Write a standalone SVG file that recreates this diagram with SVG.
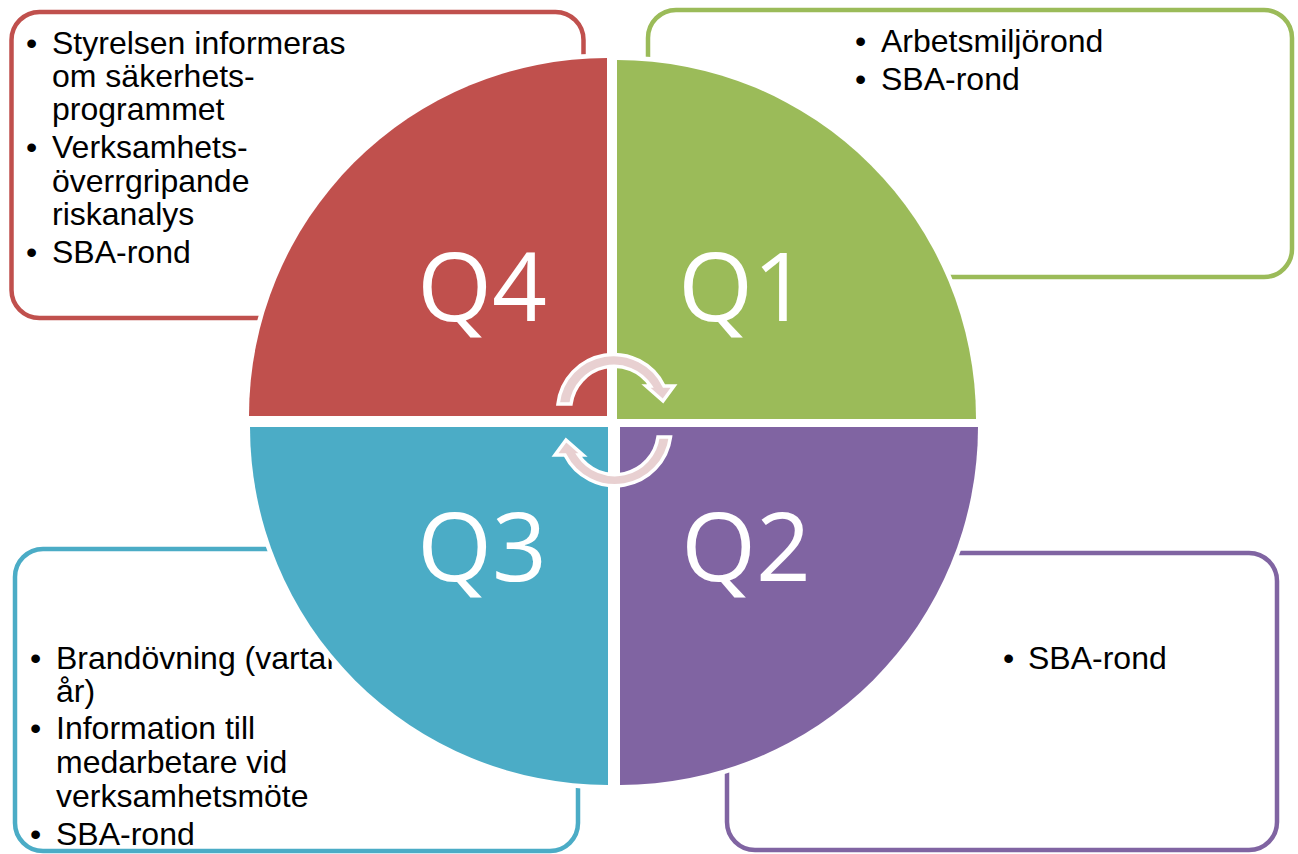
<svg xmlns="http://www.w3.org/2000/svg" width="1298" height="854" viewBox="0 0 1298 854">
<style>
.box{fill:#fff;stroke-width:4.5}
.t{font-family:"Liberation Sans",Arial,sans-serif;font-size:32px;fill:#000}
.q{font-family:"Open Sans","Noto Sans",sans-serif;font-size:96px;fill:#fff;text-anchor:middle}
.quad{stroke:#fff;stroke-width:9;paint-order:stroke}
.arr{fill:#E8D0D1;stroke:#fff;stroke-width:3.5;stroke-linejoin:miter}
</style>
<rect width="1298" height="854" fill="#fff"/>
<g id="q4">
<rect class="box" x="11.5" y="12" width="572" height="306" rx="28" stroke="#C0504D"/>
<text class="t"><tspan x="26" y="54">•</tspan><tspan x="52" y="54">Styrelsen informeras</tspan><tspan x="52" y="87">om säkerhets-</tspan><tspan x="52" y="120">programmet</tspan><tspan x="26" y="158">•</tspan><tspan x="52" y="158">Verksamhets-</tspan><tspan x="52" y="191.5">överrgripande</tspan><tspan x="52" y="225">riskanalys</tspan><tspan x="26" y="263">•</tspan><tspan x="52" y="263">SBA-rond</tspan></text>
<path class="quad" fill="#C0504D" d="M607 416 L249 416 A358 358 0 0 1 607 58 Z"/>
<text class="q" x="482" y="321">Q4</text>
</g>
<g id="q1">
<rect class="box" x="648" y="10" width="644" height="267" rx="28" stroke="#9BBB59"/>
<text class="t"><tspan x="855" y="52">•</tspan><tspan x="881" y="52">Arbetsmiljörond</tspan><tspan x="855" y="90">•</tspan><tspan x="881" y="90">SBA-rond</tspan></text>
<path class="quad" fill="#9BBB59" d="M617 419 L617 60 A359 359 0 0 1 976 419 Z"/>
<text class="q" x="743" y="321">Q1</text>
</g>
<g id="q3">
<rect class="box" x="15" y="549" width="563" height="302" rx="28" stroke="#4BACC6"/>
<text class="t"><tspan x="30" y="669">•</tspan><tspan x="56" y="669">Brandövning (vartannat</tspan><tspan x="56" y="702">år)</tspan><tspan x="30" y="739">•</tspan><tspan x="56" y="739">Information till</tspan><tspan x="56" y="773">medarbetare vid</tspan><tspan x="56" y="807">verksamhetsmöte</tspan><tspan x="30" y="845">•</tspan><tspan x="56" y="845">SBA-rond</tspan></text>
<path class="quad" fill="#4BACC6" d="M608 427 L608 785 A358 358 0 0 1 250 427 Z"/>
<text class="q" x="482" y="581">Q3</text>
</g>
<g id="q2">
<rect class="box" x="727" y="553" width="550" height="297" rx="28" stroke="#8064A2"/>
<text class="t"><tspan x="1003" y="669">•</tspan><tspan x="1028" y="669">SBA-rond</tspan></text>
<path class="quad" fill="#8064A2" d="M620 427 L978 427 A358 358 0 0 1 620 785 Z"/>
<text class="q" x="746" y="581">Q2</text>
</g>
<g id="connectors">
<path class="arr" d="M558 404 A56 56 0 0 1 664 386 L674 386 L663 401 L646 386 L650.5 386 A43.5 43.5 0 0 0 571 404 Z"/>
<path class="arr" d="M670.5 437 A56 56 0 0 1 565 455 L555 455 L566 440 L583 455 L578.5 455 A43.5 43.5 0 0 0 658 437 Z"/>
</g>
</svg>
